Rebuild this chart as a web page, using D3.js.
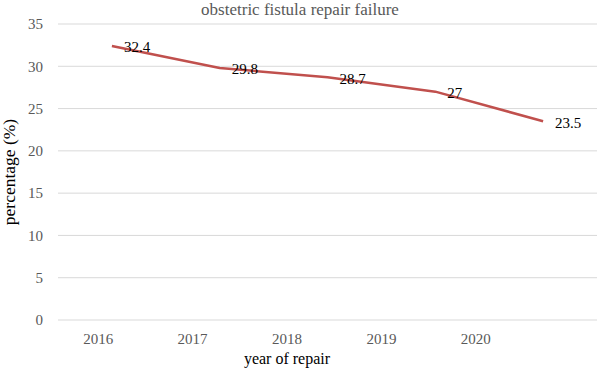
<!DOCTYPE html>
<html>
<head>
<meta charset="utf-8">
<script src="https://cdn.jsdelivr.net/npm/d3@7"></script>
<style>
  body { margin: 0; background: #fff; }
  svg { display: block; font-family: 'Liberation Serif', 'Times New Roman', serif; }
</style>
</head>
<body>
<svg id="chart" width="597" height="372"></svg>
<script>
const years = ['2016', '2017', '2018', '2019', '2020'];
const failure = [32.4, 29.8, 28.7, 27, 23.5];
const yTicks = [0, 5, 10, 15, 20, 25, 30, 35];

const svg = d3.select('#chart');
const plot = { left: 58, right: 597, top: 24, bottom: 320 };

const x = d3.scaleBand().domain(years).range([plot.left, plot.right]);
// the category labels in the figure sit a little left of the plotted points
const xLabel = d3.scaleBand().domain(years).range([51, 523]);
const y = d3.scaleLinear().domain([0, 35]).range([plot.bottom, plot.top]);

// gridlines
svg.append('g')
    .selectAll('line')
    .data(yTicks)
    .enter()
    .append('line')
    .attr('x1', plot.left)
    .attr('x2', plot.right)
    .attr('y1', d => y(d))
    .attr('y2', d => y(d))
    .attr('stroke', '#d9d9d9')
    .attr('stroke-width', 1);

// y axis labels
svg.append('g')
    .selectAll('text')
    .data(yTicks)
    .enter()
    .append('text')
    .attr('x', 43)
    .attr('y', d => y(d))
    .attr('dy', '0.35em')
    .attr('text-anchor', 'end')
    .attr('fill', '#595959')
    .style('font-size', '15px')
    .text(d => d);

// x axis labels
svg.append('g')
    .selectAll('text')
    .data(years)
    .enter()
    .append('text')
    .attr('x', d => xLabel(d) + xLabel.bandwidth() / 2)
    .attr('y', 344)
    .attr('text-anchor', 'middle')
    .attr('fill', '#595959')
    .style('font-size', '15px')
    .text(d => d);

const line = d3.line()
    .x((d, i) => x(years[i]) + x.bandwidth() / 2)
    .y(d => y(d));

svg.append('path')
    .datum(failure)
    .attr('d', line)
    .attr('fill', 'none')
    .attr('stroke', '#c0504d')
    .attr('stroke-width', 2.5)
    .attr('stroke-linejoin', 'round');

// data labels
svg.append('g')
    .selectAll('text')
    .data(failure)
    .enter()
    .append('text')
    .attr('x', (d, i) => x(years[i]) + x.bandwidth() / 2 + 12)
    .attr('y', d => y(d) + 1)
    .attr('dy', '0.35em')
    .attr('fill', '#000')
    .style('font-size', '15px')
    .text(d => d);

// title
svg.append('text')
    .attr('x', 300)
    .attr('y', 15)
    .attr('text-anchor', 'middle')
    .attr('fill', '#595959')
    .style('font-size', '17px')
    .text('obstetric fistula repair failure');

// axis titles
svg.append('text')
    .attr('x', 287)
    .attr('y', 364)
    .attr('text-anchor', 'middle')
    .attr('fill', '#000')
    .style('font-size', '16px')
    .text('year of repair');

svg.append('text')
    .attr('transform', 'translate(15,172) rotate(-90)')
    .attr('text-anchor', 'middle')
    .attr('fill', '#000')
    .style('font-size', '17.5px')
    .text('percentage (%)');
</script>
</body>
</html>
